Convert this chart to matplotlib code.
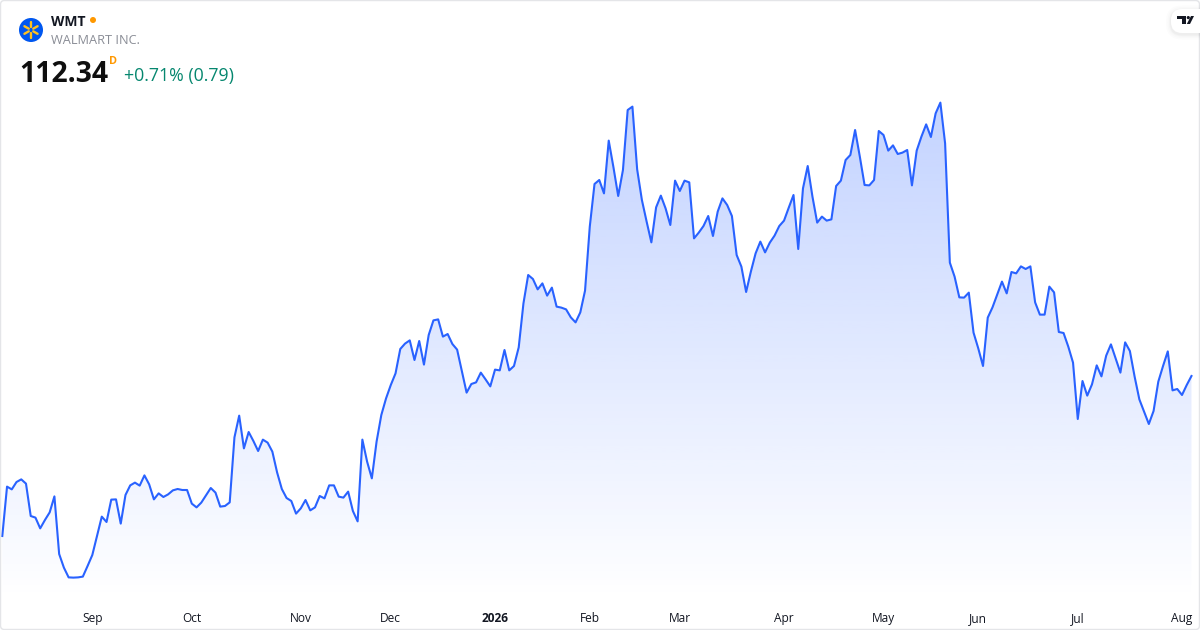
import numpy as np
import matplotlib
matplotlib.use('Agg')
from matplotlib import pyplot as plt
from matplotlib.patches import Circle, FancyBboxPatch, Polygon

plt.rcParams['font.family'] = ['Open Sans', 'DejaVu Sans']

# daily close (252 sessions)
prices = [
    99.54, 103.49, 103.27, 103.86, 104.07, 103.73, 101.14, 101.01, 100.15, 100.82,
    101.43, 102.71, 98.10, 97.01, 96.23, 96.21, 96.23, 96.29, 97.14, 98.02,
    99.54, 101.09, 100.66, 102.45, 102.47, 100.53, 102.82, 103.59, 103.81, 103.57,
    104.39, 103.67, 102.47, 102.95, 102.66, 102.87, 103.19, 103.30, 103.22, 103.22,
    102.13, 101.83, 102.21, 102.79, 103.38, 103.01, 101.89, 101.94, 102.23, 107.43,
    109.17, 106.55, 107.86, 107.14, 106.34, 107.25, 107.01, 106.29, 104.63, 103.30,
    102.58, 102.34, 101.33, 101.75, 102.42, 101.59, 101.83, 102.74, 102.55, 103.59,
    103.59, 102.69, 102.61, 103.09, 101.54, 100.71, 107.25, 105.49, 104.15, 107.09,
    109.22, 110.55, 111.62, 112.55, 114.50, 114.93, 115.19, 113.62, 115.14, 113.25,
    115.62, 116.79, 116.87, 115.49, 115.70, 114.90, 114.45, 112.74, 111.01, 111.70,
    111.83, 112.61, 112.07, 111.51, 112.85, 112.79, 114.42, 112.79, 113.14, 114.63,
    118.15, 120.42, 120.10, 119.27, 119.75, 118.77, 119.41, 117.89, 117.81, 117.67,
    117.03, 116.63, 117.43, 119.17, 124.29, 127.70, 128.02, 126.95, 131.17, 129.03,
    126.74, 128.82, 133.62, 133.89, 128.87, 126.42, 124.69, 123.03, 125.83, 126.77,
    125.75, 124.42, 127.97, 127.14, 127.97, 127.83, 123.35, 123.81, 124.34, 125.14,
    123.54, 125.49, 126.55, 126.02, 125.14, 122.02, 121.09, 119.06, 120.69, 122.15,
    123.09, 122.23, 123.01, 123.57, 124.34, 124.77, 125.81, 126.82, 122.50, 127.35,
    129.14, 126.69, 124.61, 125.09, 124.77, 124.87, 127.54, 127.97, 129.62, 130.02,
    132.02, 129.89, 127.62, 127.59, 128.02, 131.94, 131.62, 130.37, 130.79, 130.10,
    130.21, 130.42, 127.59, 130.37, 131.49, 132.47, 131.46, 133.35, 134.21, 130.95,
    121.41, 120.29, 118.63, 118.61, 119.01, 115.81, 114.55, 113.14, 117.01, 117.83,
    118.87, 119.89, 118.95, 120.66, 120.55, 121.11, 120.90, 121.11, 118.23, 117.25,
    117.25, 119.49, 119.03, 115.86, 115.78, 114.69, 113.41, 108.90, 111.94, 110.77,
    111.67, 113.19, 112.31, 113.97, 114.87, 113.75, 112.61, 115.03, 114.34, 112.29,
    110.47, 109.49, 108.50, 109.54, 111.89, 113.14, 114.31, 111.19, 111.30, 110.82,
    111.62, 112.34,
]
# session number of the first trading day of each month
month_sessions = [19, 40, 63, 82, 104, 124, 143, 165, 186, 206, 227, 249]
month_labels = ['Sep', 'Oct', 'Nov', 'Dec', '2026', 'Feb', 'Mar', 'Apr', 'May', 'Jun', 'Jul', 'Aug']

symbol = 'WMT'
company = 'WALMART INC.'
last_price = '112.34'
interval = 'D'
change = '+0.71% (0.79)'

LINE = '#2962FF'
ORANGE = '#FF9800'
GREEN = '#06876F'

fig = plt.figure(figsize=(12, 6.3), dpi=100, facecolor='white')
ax = fig.add_axes([0, 30 / 630, 1, 600 / 630])

days = np.arange(len(prices))
price_floor = 94.42

# area under the line, fading downwards
area = ax.fill_between(days, prices, price_floor, color='none', linewidth=0)
fade = np.zeros((256, 1, 4))
fade[:, 0, :3] = matplotlib.colors.to_rgb(LINE)
fade[:, 0, 3] = np.linspace(0.28, 0.0, 256)
grad = ax.imshow(fade, extent=[0, len(prices) - 1, price_floor, 134.3], aspect='auto',
                 origin='upper', interpolation='bilinear', zorder=1)
grad.set_clip_path(area.get_paths()[0], transform=ax.transData)

ax.plot(days, prices, color=LINE, linewidth=1.5, solid_joinstyle='round', zorder=2)

ax.set_xlim(-0.485, 252.8)
ax.set_ylim(price_floor, 142.42)
for s in ax.spines.values():
    s.set_visible(False)
ax.set_yticks([])
ax.set_xticks(month_sessions)
ax.set_xticklabels(month_labels, fontsize=8.6, color='#131722')
ax.tick_params(axis='x', length=0, pad=8.7)
ax.get_xticklabels()[month_labels.index('2026')].set_fontweight('bold')

# overlay in pixels for the header, logo and frame
ov = fig.add_axes([0, 0, 1, 1], facecolor='none')
ov.set_xlim(0, 1200)
ov.set_ylim(630, 0)
ov.axis('off')

ov.add_patch(FancyBboxPatch((0.5, 0.5), 1199, 629, boxstyle='round,pad=0,rounding_size=4',
                            facecolor='none', edgecolor='#E4E5E8', linewidth=1))

# walmart badge
ov.add_patch(Circle((31, 30), 12, facecolor='#0057F0', edgecolor='none'))
for a in np.deg2rad([90, 150, 210, 270, 330, 30]):
    ov.plot([31 + 2.6 * np.cos(a), 31 + 7.6 * np.cos(a)], [30 + 2.6 * np.sin(a), 30 + 7.6 * np.sin(a)],
            color='#FFC220', linewidth=1.7, solid_capstyle='round')

ov.text(51, 22, symbol, fontsize=10, fontweight='bold', color='#131722', va='center', ha='left')
ov.add_patch(Circle((93, 20), 3, facecolor=ORANGE, edgecolor='none'))
ov.text(51, 41, company, fontsize=9.2, color='#8A8D96', va='center', ha='left')
ov.text(19, 74, last_price, fontsize=20.4, fontweight='bold', color='#0F0F0F', va='center', ha='left')
ov.text(109, 61.5, interval, fontsize=7.8, fontweight='bold', color=ORANGE, va='center', ha='left')
ov.text(124, 75.5, change, fontsize=12.8, color=GREEN, va='center', ha='left')

# tradingview badge with soft shadow
for grow, alpha in [(5, 0.01), (3.5, 0.012), (2, 0.018), (1, 0.025)]:
    ov.add_patch(FancyBboxPatch((1171 - grow, 9 - grow + 1.5), 40 + 2 * grow, 24 + 2 * grow,
                                boxstyle='round,pad=0,rounding_size=%g' % (11 + grow),
                                facecolor='black', alpha=alpha, edgecolor='none'))
ov.add_patch(FancyBboxPatch((1171, 9), 40, 24, boxstyle='round,pad=0,rounding_size=11',
                            facecolor='white', edgecolor='none'))
ov.add_patch(Polygon([(1177, 16), (1186, 16), (1186, 24), (1182, 24), (1182, 19), (1177, 19)],
                     facecolor='#131722', edgecolor='none'))
ov.add_patch(Circle((1188.3, 17.6), 1.6, facecolor='#131722', edgecolor='none'))
ov.add_patch(Polygon([(1191, 16), (1194, 16), (1190, 24), (1186.8, 24)],
                     facecolor='#131722', edgecolor='none'))

fig.savefig('out.png', dpi=100, facecolor='white')
